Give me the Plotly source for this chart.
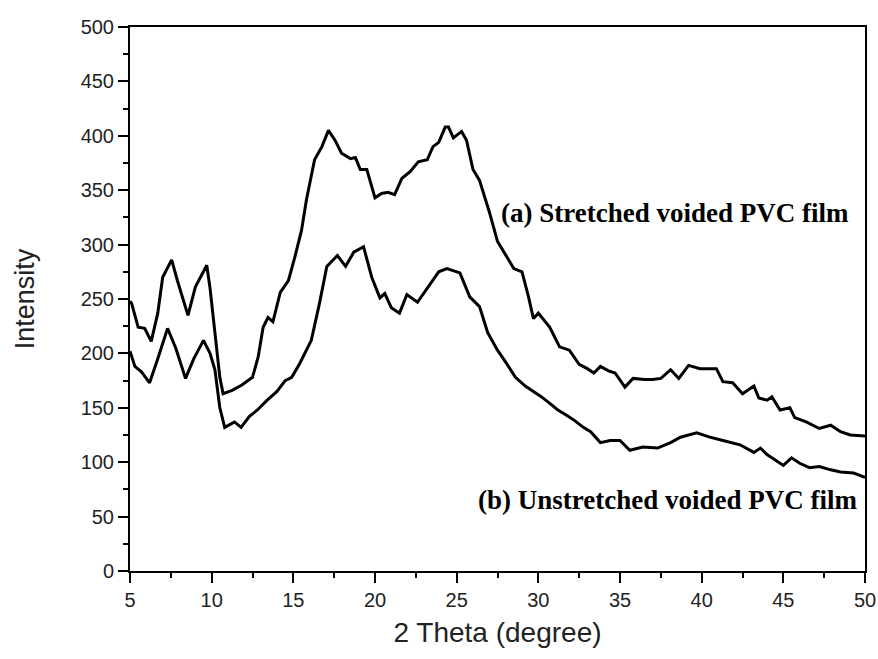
import plotly.graph_objects as go

# Curve (a): stretched voided PVC film
xa = [5.0, 5.1, 5.5, 5.9, 6.3, 6.7, 7.0, 7.55, 7.9, 8.55, 9.0, 9.3, 9.7, 9.9, 10.2, 10.5, 10.7,
      11.25, 11.85, 12.5, 12.85, 13.15, 13.45, 13.75, 14.2, 14.7, 15.1, 15.5, 15.8, 16.3, 16.75,
      17.15, 17.55, 17.95, 18.5, 18.8, 19.1, 19.5, 20.0, 20.4, 20.8, 21.2, 21.65, 22.15, 22.65,
      23.2, 23.55, 23.9, 24.3, 24.5, 24.8, 25.3, 25.6, 26.0, 26.4, 27.0, 27.5, 28.0, 28.5, 29.0,
      29.4, 29.7, 30.0, 30.7, 31.3, 31.9, 32.5, 33.0, 33.4, 33.8, 34.3, 34.7, 35.3, 35.8, 36.5,
      37.0, 37.5, 38.1, 38.6, 39.2, 39.9, 40.5, 40.9, 41.3, 41.9, 42.5, 43.2, 43.5, 44.0, 44.3,
      44.8, 45.4, 45.7, 46.4, 47.2, 47.9, 48.5, 49.1, 50.0]
ya = [248, 246, 224, 223, 211, 237, 270, 286, 267, 235, 261, 269, 281, 260, 219, 178, 163,
      166, 171, 178, 197, 224, 233, 229, 256, 267, 289, 313, 341, 378, 390,
      405, 396, 384, 379, 380, 369, 369, 343, 347, 348, 346, 361, 367, 376,
      378, 390, 394, 408, 408, 398, 404, 396, 369, 359, 330, 303, 290, 278, 275,
      252, 232, 237, 224, 206, 203, 190, 186, 182, 188, 184, 182, 169, 177, 176,
      176, 177, 185, 177, 189, 186, 186, 186, 174, 173, 163, 170, 159, 157, 160,
      148, 150, 141, 137, 131, 134, 128, 125, 124]

# Curve (b): unstretched voided PVC film
xb = [5.0, 5.3, 5.7, 6.2, 6.7, 7.3, 7.8, 8.4, 8.9, 9.5, 9.9, 10.2, 10.5, 10.8, 11.4, 11.8,
      12.3, 12.8, 13.4, 14.0, 14.5, 14.9, 15.4, 16.1, 16.6, 17.05, 17.7, 18.2, 18.7, 19.3, 19.8,
      20.3, 20.6, 21.0, 21.5, 21.95, 22.6, 23.25, 23.9, 24.4, 25.2, 25.8, 26.4, 26.9, 27.5,
      28.0, 28.6, 29.2, 29.7, 30.2, 30.7, 31.2, 31.75, 32.25, 32.75, 33.2, 33.8, 34.4, 35.0,
      35.6, 36.4, 37.3, 38.1, 38.7, 39.7, 40.5, 41.3, 42.35, 43.2, 43.6, 44.0, 45.0, 45.5,
      46.0, 46.6, 47.2, 47.9, 48.5, 49.3, 50.0]
yb = [202, 188, 183, 173, 195, 223, 205, 177, 195, 212, 200, 185, 150, 132, 137, 132,
      142, 148, 157, 165, 175, 178, 191, 212, 246, 280, 290, 280, 293, 298, 270,
      251, 255, 242, 237, 254, 247, 261, 275, 278, 274, 252, 243, 219, 203,
      192, 178, 170, 165, 160, 154, 148, 143, 138, 132, 128, 118, 120, 120,
      111, 114, 113, 118, 123, 127, 123, 120, 116, 109, 113, 107, 97, 104,
      99, 95, 96, 93, 91, 90, 86]

labels = ["(a) Stretched voided PVC film", "(b) Unstretched voided PVC film"]
label_x = [27.6, 26.2]
label_y = [329, 65]

fig = go.Figure()
fig.add_trace(go.Scatter(x=xa, y=ya, mode="lines", line=dict(color="black", width=3),
                         showlegend=False))
fig.add_trace(go.Scatter(x=xb, y=yb, mode="lines", line=dict(color="black", width=3),
                         showlegend=False))

for t, x, y in zip(labels, label_x, label_y):
    fig.add_annotation(x=x, y=y, text="<b>" + t + "</b>", showarrow=False, xanchor="left",
                       yanchor="middle",
                       font=dict(family="Liberation Serif, Times New Roman, serif", size=27,
                                 color="black"))

axis_common = dict(showline=True, linecolor="black", linewidth=2, mirror=True,
                   ticks="outside", ticklen=10, tickwidth=2, tickcolor="black",
                   showgrid=False, zeroline=False, automargin=False,
                   tickfont=dict(family="Liberation Sans, Arial, sans-serif", size=20,
                                 color="#222"))

fig.update_xaxes(range=[5, 50], tickvals=[5, 10, 15, 20, 25, 30, 35, 40, 45, 50],
                 minor=dict(ticks="outside", ticklen=5, tickwidth=2, tickcolor="black",
                            dtick=2.5, tick0=5),
                 title=dict(text="2 Theta (degree)", standoff=12,
                            font=dict(family="Liberation Sans, Arial, sans-serif", size=28,
                                      color="#222")),
                 **axis_common)
fig.update_yaxes(range=[0, 500], tickvals=list(range(0, 501, 50)),
                 minor=dict(ticks="outside", ticklen=5, tickwidth=2, tickcolor="black",
                            dtick=25, tick0=0),
                 title=dict(text="Intensity", standoff=38,
                            font=dict(family="Liberation Sans, Arial, sans-serif", size=27,
                                      color="#222")),
                 **axis_common)

fig.update_layout(width=878, height=659, plot_bgcolor="white", paper_bgcolor="white",
                  margin=dict(l=130, r=13, t=27, b=88))

fig.write_html("out.html")
